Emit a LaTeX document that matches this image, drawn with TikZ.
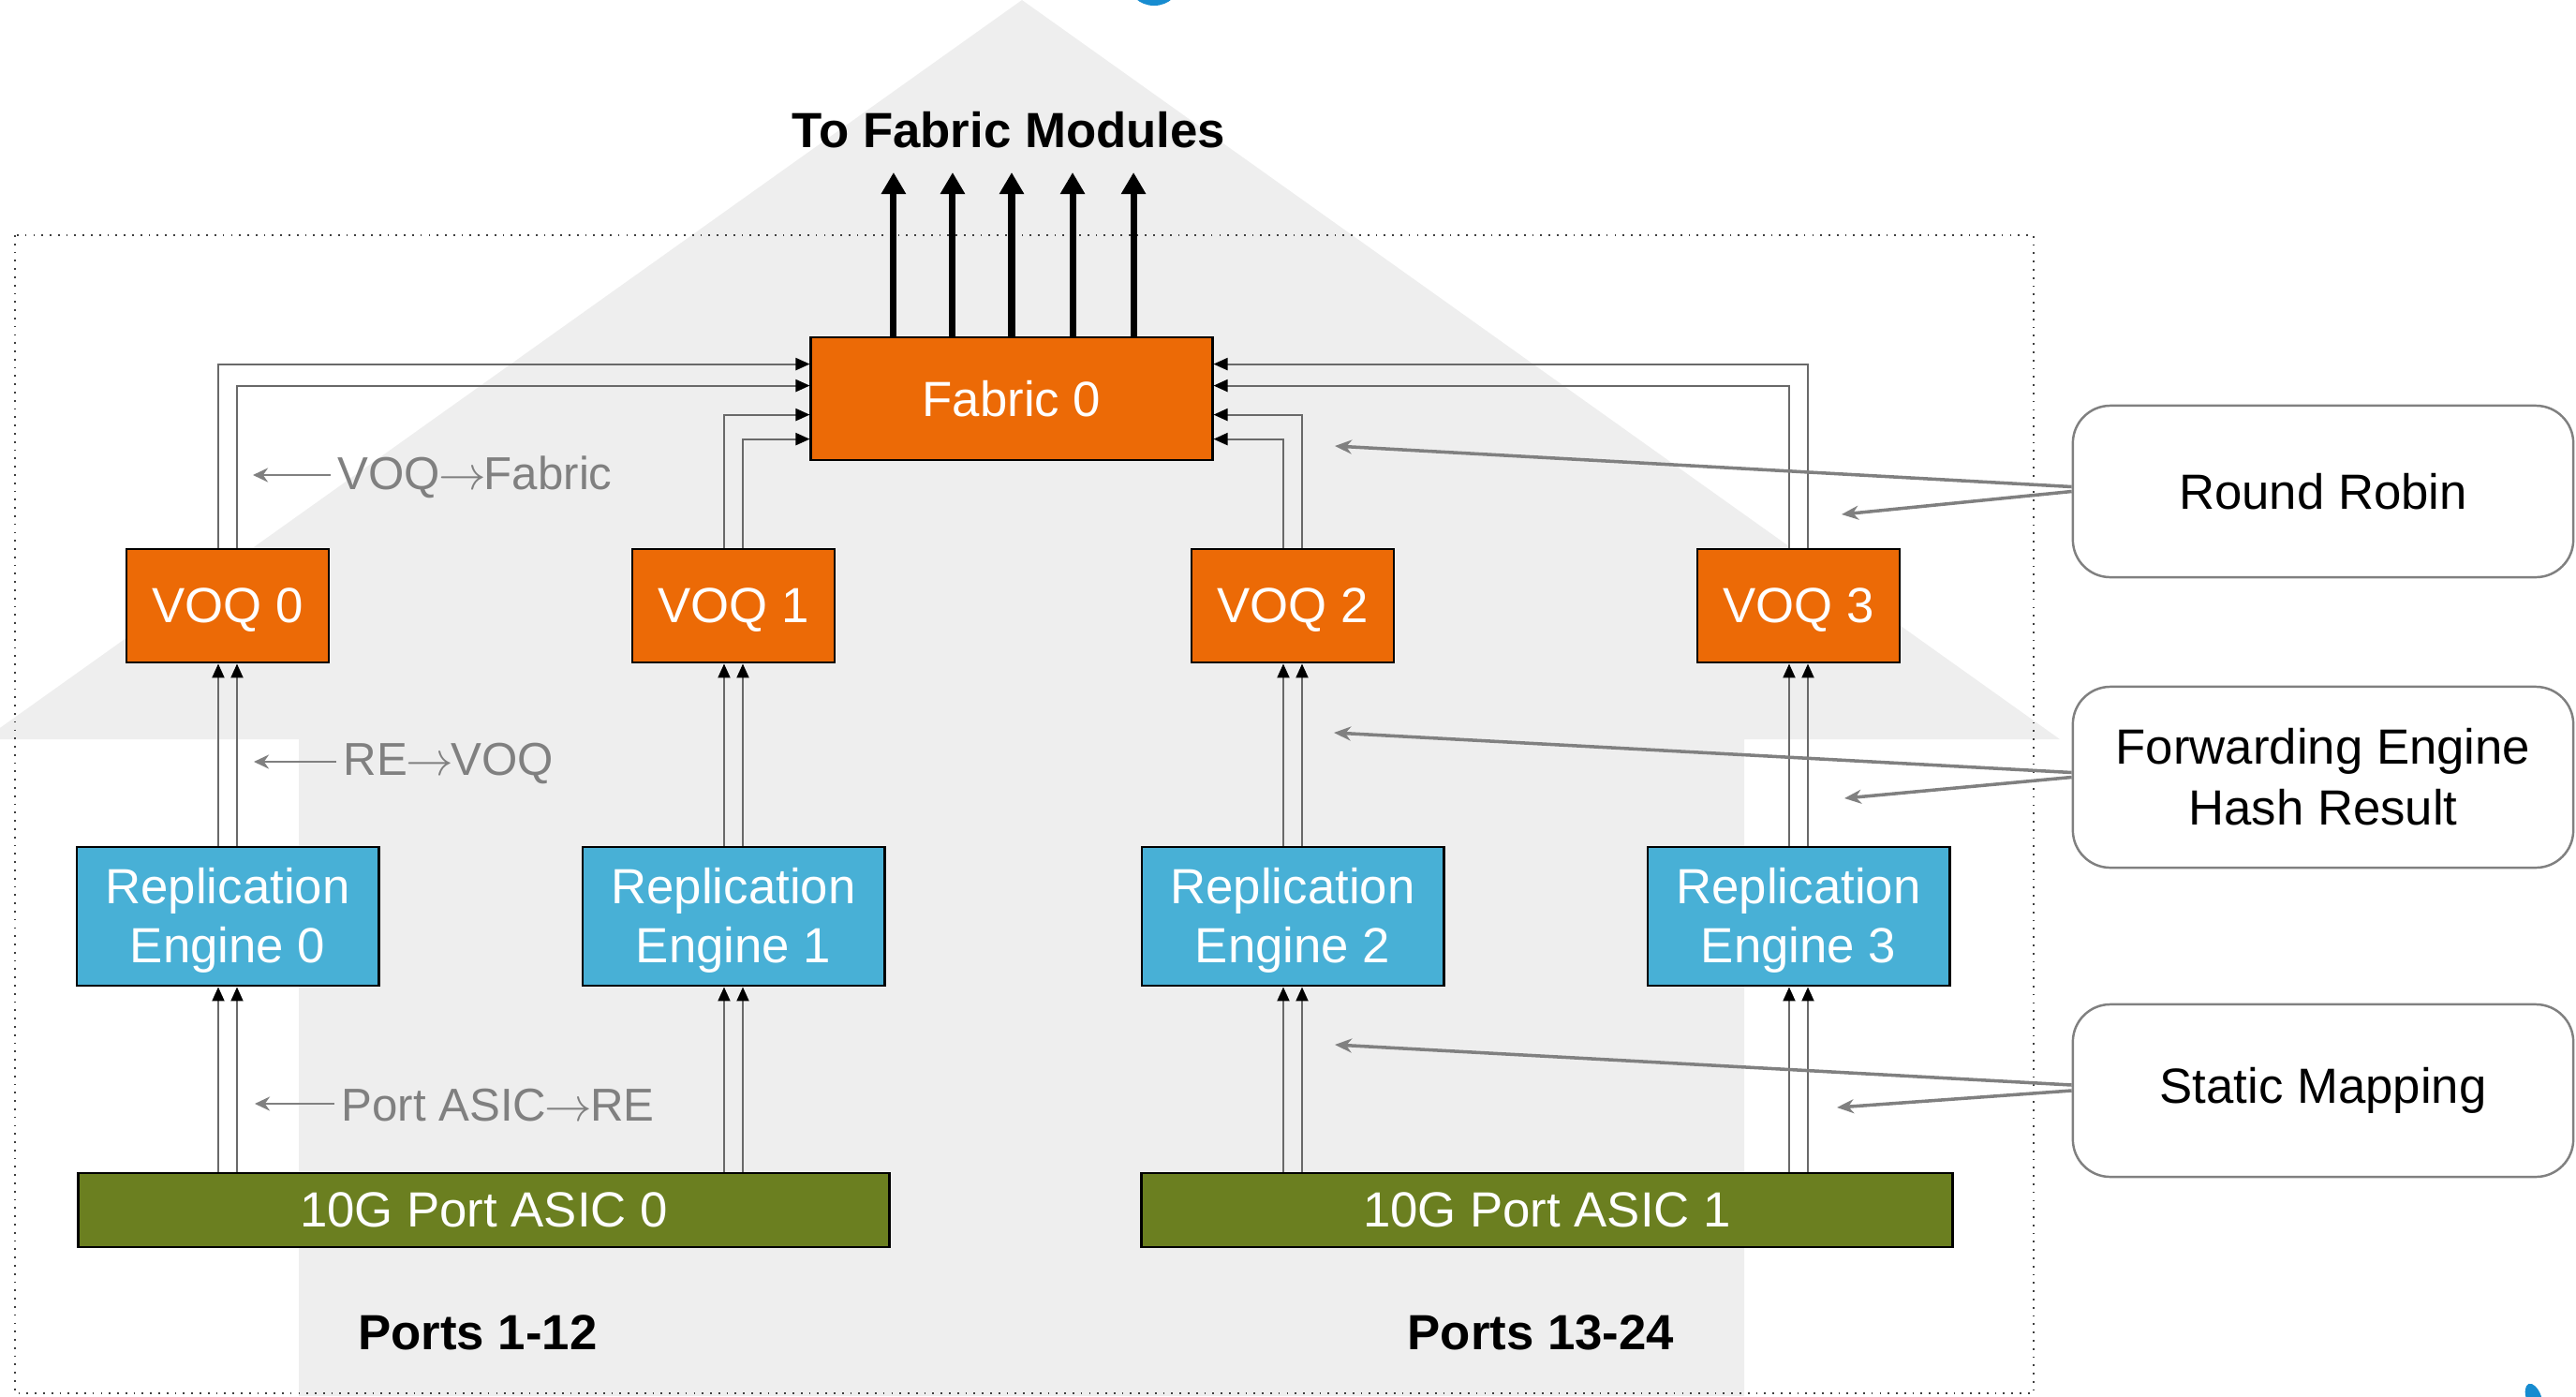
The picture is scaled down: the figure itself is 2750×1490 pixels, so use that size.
\documentclass[tikz,border=0pt]{standalone}
\usepackage{fontspec}
\setmainfont{Liberation Sans}
\usepackage{tikz}
\usetikzlibrary{arrows.meta,positioning}
\definecolor{orange2}{RGB}{236,106,6}
\definecolor{blue2}{RGB}{72,176,214}
\definecolor{green2}{RGB}{107,127,32}
\definecolor{bggray}{RGB}{238,238,238}
\definecolor{gray2}{RGB}{128,128,128}
\definecolor{wire}{RGB}{105,105,105}
\definecolor{logoblue}{RGB}{23,140,208}
\newcommand{\rarr}{\kern-0.04em$\rightarrow$\kern-0.04em}
\tikzset{
  voqbox/.style={draw=black, line width=0.8pt, fill=orange2, text=white, text depth=0pt,
    minimum width=21.6mm, minimum height=12.1mm, align=center, font=\fontsize{15}{18}\selectfont},
  fabricbox/.style={voqbox, minimum width=42.8mm, minimum height=13.1mm},
  rebox/.style={draw=black, line width=0.8pt, fill=blue2, text=white, text depth=0.08em,
    minimum width=32.2mm, minimum height=14.8mm, align=center, font=\fontsize{15}{17.8}\selectfont},
  asicbox/.style={draw=black, line width=0.8pt, fill=green2, text=white,
    minimum width=86.5mm, minimum height=7.9mm, font=\fontsize{15}{18}\selectfont},
  notebox/.style={draw=gray2, line width=0.7pt, rounded corners=4mm, fill=white,
    minimum width=53.4mm, align=center, font=\fontsize{15}{18.5}\selectfont},
  hint/.style={text=gray2, anchor=west, inner sep=0pt, font=\fontsize{14}{17}\selectfont},
  hintarrow/.style={draw=gray2, line width=0.8pt, shorten <=2pt, -{Stealth[length=1.6mm, width=1.5mm]}},
  link/.style={draw=wire, line width=0.6pt, -{Triangle[color=black, fill=black, length=1.5mm, width=1.3mm]}},
  bigflow/.style={line width=2pt, -{Triangle[length=2.3mm, width=2.5mm]}},
  note/.style={draw=gray2, line width=1pt, -{Stealth[length=1.8mm, width=1.5mm]}},
  portlabel/.style={font=\bfseries\fontsize{15}{18}\selectfont}
}

\begin{document}
\begin{tikzpicture}[x=0.01cm, y=-0.01cm, node distance=19.4mm]
\useasboundingbox (0,0) rectangle (2750,1490);
% background arrow and frame
\fill[bggray] (1091,0) -- (2199,789) -- (1862,789) -- (1862,1490) -- (319,1490)
  -- (319,789) -- (-17,789) -- cycle;
\fill[logoblue] (1232,-20) ellipse [x radius=0.28cm, y radius=0.26cm];
\fill[logoblue, rotate around={20:(2705,1492)}] (2705,1492) ellipse [x radius=0.08cm, y radius=0.16cm];
\draw[dotted, black!75, line width=0.5pt] (16,251) rectangle (2171,1487);

\node[fabricbox] (fabric) at (1080,425.5) {Fabric 0};
\node[portlabel] (tofab) at (1077,139) {To Fabric Modules};
\coordinate (up) at (1080,184);

\node[voqbox] (voq0) at (243,646.5) {VOQ 0};
\node[voqbox] (voq1) at (783,646.5) {VOQ 1};
\node[voqbox] (voq2) at (1380,646.5) {VOQ 2};
\node[voqbox] (voq3) at (1920,646.5) {VOQ 3};

\node[rebox, below=of voq0] (re0) {Replication\\Engine 0};
\node[rebox, below=of voq1] (re1) {Replication\\Engine 1};
\node[rebox, below=of voq2] (re2) {Replication\\Engine 2};
\node[rebox, below=of voq3] (re3) {Replication\\Engine 3};

\node[asicbox] (asic0) at (516.5,1291.5) {10G Port ASIC 0};
\node[asicbox] (asic1) at (1651.5,1291.5) {10G Port ASIC 1};

\node[portlabel] (ports0) at (510,1422) {Ports 1-12};
\node[portlabel] (ports1) at (1645,1422) {Ports 13-24};

\node[notebox, minimum height=18.3mm] (robin) at (2480,524.5) {Round Robin};
\node[notebox, minimum height=19.3mm] (hash) at (2480,829.5) {Forwarding Engine\\Hash Result};
\node[notebox, minimum height=18.4mm] (static) at (2480,1164) {Static Mapping};

% hint labels
\node[hint] (h1) at (360,509) {VOQ\rarr Fabric};
\node[hint] (h2) at (366,815) {RE\rarr VOQ};
\node[hint] (h3) at (364,1180) {Port ASIC\rarr RE};
\coordinate (p1) at (270,507);
\coordinate (p2) at (271,813);
\coordinate (p3) at (272,1178);
\draw[hintarrow] (h1.west |- p1) -- (p1);
\draw[hintarrow] (h2.west |- p2) -- (p2);
\draw[hintarrow] (h3.west |- p3) -- (p3);

% to fabric modules
\foreach \s in {-1.26,-0.63,0,0.65,1.3}
  \draw[bigflow] ([xshift=\s cm]fabric.north) -- ([xshift=\s cm]fabric.north |- up);

% port ASIC -> replication engines -> VOQ
\foreach \s in {-1mm,1mm} {
  \draw[link] ([xshift=\s]re0.south |- asic0.north) -- ([xshift=\s]re0.south);
  \draw[link] ([xshift=\s]re1.south |- asic0.north) -- ([xshift=\s]re1.south);
  \draw[link] ([xshift=\s]re2.south |- asic1.north) -- ([xshift=\s]re2.south);
  \draw[link] ([xshift=\s]re3.south |- asic1.north) -- ([xshift=\s]re3.south);
  \draw[link] ([xshift=\s]re0.north) -- ([xshift=\s]voq0.south);
  \draw[link] ([xshift=\s]re1.north) -- ([xshift=\s]voq1.south);
  \draw[link] ([xshift=\s]re2.north) -- ([xshift=\s]voq2.south);
  \draw[link] ([xshift=\s]re3.north) -- ([xshift=\s]voq3.south);
}

% VOQ -> fabric
\draw[link] ([xshift=-1mm]voq0.north) |- ([yshift=-3mm]fabric.north west);
\draw[link] ([xshift=1mm]voq0.north) |- ([yshift=-5.3mm]fabric.north west);
\draw[link] ([xshift=-1mm]voq1.north) |- ([yshift=-8.4mm]fabric.north west);
\draw[link] ([xshift=1mm]voq1.north) |- ([yshift=-11mm]fabric.north west);
\draw[link] ([xshift=1mm]voq2.north) |- ([yshift=-8.4mm]fabric.north east);
\draw[link] ([xshift=-1mm]voq2.north) |- ([yshift=-11mm]fabric.north east);
\draw[link] ([xshift=1mm]voq3.north) |- ([yshift=-3mm]fabric.north east);
\draw[link] ([xshift=-1mm]voq3.north) |- ([yshift=-5.3mm]fabric.north east);

% notes
\coordinate (rr1) at (1425,476);
\coordinate (rr2) at (1966,549);
\coordinate (fh1) at (1424,782);
\coordinate (fh2) at (1969,852);
\coordinate (sm1) at (1425,1115);
\coordinate (sm2) at (1961,1182);
\draw[note] ([yshift=0.5mm]robin.west) -- (rr1);
\draw[note] (robin.west) -- (rr2);
\draw[note] ([yshift=0.5mm]hash.west) -- (fh1);
\draw[note] (hash.west) -- (fh2);
\draw[note] ([yshift=0.6mm]static.west) -- (sm1);
\draw[note] (static.west) -- (sm2);
\end{tikzpicture}
\end{document}
